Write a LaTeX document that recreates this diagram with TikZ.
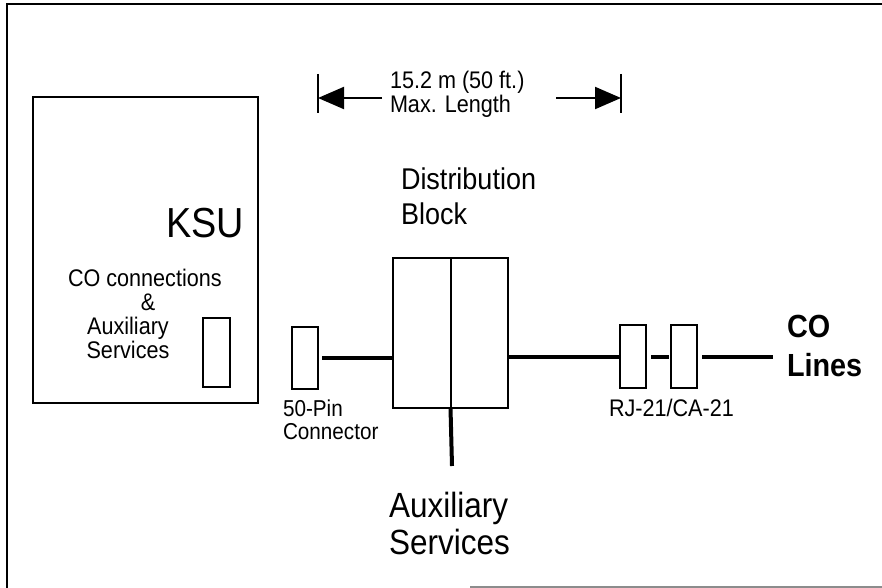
\documentclass[tikz,border=0pt]{standalone}
\usepackage{fontspec}
\setmainfont[FakeStretch=0.9]{Liberation Sans}
\usetikzlibrary{arrows.meta}
\begin{document}
\begin{tikzpicture}[x=1pt,y=-1pt,
  box/.style={draw,line width=2pt,inner sep=0pt,outer sep=0pt,anchor=north west},
  conn/.style={line width=4pt},
  lbl/.style={inner sep=0pt,outer sep=0pt},
  small/.style={lbl,font=\fontsize{24}{30}\selectfont},
  dimarrow/.style={line width=2pt,-{Triangle[length=26pt,width=22pt]}},
  frameline/.style={line width=2.5pt}]
\useasboundingbox (0,0) rectangle (882,588);
% frame
\coordinate (ftr) at (882,4);
\coordinate (ftl) at (7,4);
\coordinate (fbl) at (7,588);
\draw[frameline] (ftr) -- (ftl) -- (fbl);
\coordinate (fb1) at (470,587);
\coordinate (fb2) at (882,587);
\draw[line width=1.5pt,black!45] (fb1) -- (fb2);
% dimension
\coordinate (t1a) at (318,74); \coordinate (t1b) at (318,113);
\coordinate (t2a) at (621,74); \coordinate (t2b) at (621,113);
\draw[line width=1.5pt] (t1a) -- (t1b);
\draw[line width=1.5pt] (t2a) -- (t2b);
\node[small,anchor=base west] (dim1) at (390,89) {15.2 m (50 ft.)};
\node[small,anchor=base west] (dim2) at (390,113) {Max. Length};
\coordinate (al) at (382,98); \coordinate (ar) at (556,98);
\draw[dimarrow] (al) -- (t1a |- al);
\draw[dimarrow] (ar) -- (t2a |- ar);
% KSU
\node[box,minimum width=225pt,minimum height=306pt] (ksu) at (33,97) {};
\node[lbl,anchor=base east,font=\fontsize{42}{42}\selectfont] (ksulbl) at (244,237) {KSU};
\node[box,minimum width=27pt,minimum height=69pt] (port) at (203,318) {};
\node[small,anchor=base west] (k1) at (68,286) {CO connections};
\node[small,anchor=base] (k2) at (148,310) {\&};
\node[small,anchor=base] (k3) at (128,334) {Auxiliary};
\node[small,anchor=base] (k4) at (128,358) {Services};
% 50-pin
\node[box,minimum width=26pt,minimum height=62pt] (pin) at (292,327) {};
\node[lbl,anchor=base west,font=\fontsize{23}{28}\selectfont] (p1) at (283,416) {50-Pin};
\node[lbl,anchor=base west,font=\fontsize{23}{28}\selectfont] (p2) at (283,439) {Connector};
% distribution block
\node[box,minimum width=115pt,minimum height=150pt] (dist) at (393,258) {};
\draw[line width=2pt] (dist.north) -- (dist.south);
\node[lbl,anchor=base west,font=\fontsize{30}{34}\selectfont] (d1) at (401,189) {Distribution};
\node[lbl,anchor=base west,font=\fontsize{30}{34}\selectfont] (d2) at (401,224) {Block};
% RJ boxes
\node[box,minimum width=26pt,minimum height=63pt] (rj1) at (620,325) {};
\node[box,minimum width=26pt,minimum height=63pt] (rj2) at (671,325) {};
\node[lbl,anchor=base west,font=\fontsize{24}{28}\selectfont] (rjl) at (609,416) {RJ-21/CA-21};
\node[lbl,anchor=base west,font=\bfseries\fontsize{32}{40}\selectfont] (co1) at (787,337) {CO};
\node[lbl,anchor=base west,font=\bfseries\fontsize{32}{40}\selectfont] (co2) at (787,376) {Lines};
% connectors
\draw[conn] ([xshift=4pt]pin.east) -- (pin.east -| dist.west);
\draw[conn] (dist.east |- rj1.west) -- (rj1.west);
\draw[conn] ([xshift=5pt]rj1.east) -- ([xshift=-2pt]rj2.west);
\coordinate (coend) at (773,356.5);
\draw[conn] ([xshift=5pt]rj2.east) -- (coend);
\coordinate (auxend) at (452,466);
\draw[conn] (dist.south) -- (auxend);
\node[lbl,anchor=base west,font=\fontsize{35}{40}\selectfont] (a1) at (389,517) {Auxiliary};
\node[lbl,anchor=base west,font=\fontsize{35}{40}\selectfont] (a2) at (389,554) {Services};
\end{tikzpicture}
\end{document}
